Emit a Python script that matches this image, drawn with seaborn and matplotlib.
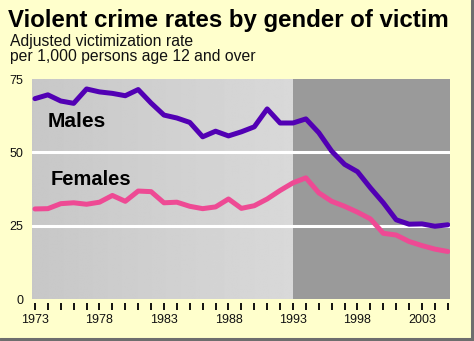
import matplotlib
matplotlib.use("Agg")
import matplotlib.pyplot as plt
from matplotlib.lines import Line2D
import numpy as np
import pandas as pd
import seaborn as sns

years = list(range(1973, 2006))
males = [68.3, 69.6, 67.5, 66.7, 71.6, 70.6, 70.1, 69.3, 71.4, 66.8,
         62.7, 61.7, 60.2, 55.3, 57.2, 55.6, 57.0, 58.7, 64.8, 60.0,
         60.0, 61.4, 56.7, 50.4, 45.9, 43.4, 37.9, 32.8, 27.0, 25.5,
         25.6, 24.8, 25.3]
females = [30.7, 30.8, 32.5, 32.8, 32.3, 33.0, 35.3, 33.3, 36.8, 36.6,
           32.8, 33.0, 31.6, 30.8, 31.4, 34.1, 30.9, 31.8, 34.1, 37.0,
           39.6, 41.3, 36.2, 33.3, 31.6, 29.6, 27.3, 22.4, 21.8, 19.6,
           18.2, 17.0, 16.2]
series_names = ["Males", "Females"]
xtick_labels = ["1973", "1978", "1983", "1988", "1993", "1998", "2003"]
ytick_values = [0, 25, 50, 75]

df = pd.DataFrame({
    "year": years * 2,
    "rate": males + females,
    "gender": [series_names[0]] * len(years) + [series_names[1]] * len(years),
})

sns.set_theme(style="white")
plt.rcParams["font.family"] = ["Liberation Sans", "DejaVu Sans"]

fig = plt.figure(figsize=(4.74, 3.41), dpi=100, facecolor="#FFFFCC")
ax = fig.add_axes([32 / 474, 1 - 299 / 341, 418 / 474, 220 / 341])
ax.set_facecolor("#CCCCCC")

# subtle horizontal gradient in the earlier period
grad = np.linspace(0.78, 0.85, 256).reshape(1, -1)
ax.imshow(grad, extent=[1972.5, 1993, 0, 75], aspect="auto", cmap="gray",
          vmin=0, vmax=1, zorder=0, interpolation="bilinear")
ax.axvspan(1993, 2006, color="#9A9A9A", zorder=0.5, lw=0)
for g in [25, 50]:
    ax.axhline(g, color="white", lw=2.2, zorder=1)

sns.lineplot(data=df, x="year", y="rate", hue="gender",
             palette={"Males": "#5200B4", "Females": "#EE4A94"},
             linewidth=3.6, legend=False, ax=ax, zorder=3)

ax.set_xlim(1972.77, 2005.17)
ax.set_ylim(0, 75)
ax.set_xticks(years)
ax.set_xticklabels([str(y) if str(y) in xtick_labels else "" for y in years])
ax.set_yticks(ytick_values)
ax.set_yticklabels([str(v) for v in ytick_values])
ax.set_xlabel("")
ax.set_ylabel("")
for s in ax.spines.values():
    s.set_visible(False)
ax.spines["bottom"].set_position(("outward", 3))
ax.tick_params(axis="x", direction="out", length=5, width=1.3, color="black",
               pad=2.5, labelsize=9, labelcolor="#111111", bottom=True)
ax.tick_params(axis="y", length=0, pad=6, labelsize=9, labelcolor="#111111")

ax.text(1974.0, 60.6, "Males", fontsize=15, fontweight="bold", va="center", ha="left", color="black", zorder=4)
ax.text(1974.2, 40.8, "Females", fontsize=14.5, fontweight="bold", va="center", ha="left", color="black", zorder=4)

fig.text(8 / 474, 1 - 9 / 341, "Violent crime rates by gender of victim",
         fontsize=17.3, fontweight="bold", va="top", ha="left", color="black")
fig.text(10 / 474, 1 - 34 / 341, "Adjusted victimization rate\nper 1,000 persons age 12 and over",
         fontsize=11.3, va="top", ha="left", color="#111111", linespacing=1.0)

fig.add_artist(Line2D([471.5 / 474, 471.5 / 474], [1 - 338.5 / 341, 1], color="#6E6E6E", lw=2.2,
                      transform=fig.transFigure))
fig.add_artist(Line2D([0, 472.5 / 474], [1 - 338.5 / 341, 1 - 338.5 / 341], color="#6E6E6E", lw=2.2,
                      transform=fig.transFigure))

fig.savefig("out.png", dpi=100, facecolor=fig.get_facecolor())
